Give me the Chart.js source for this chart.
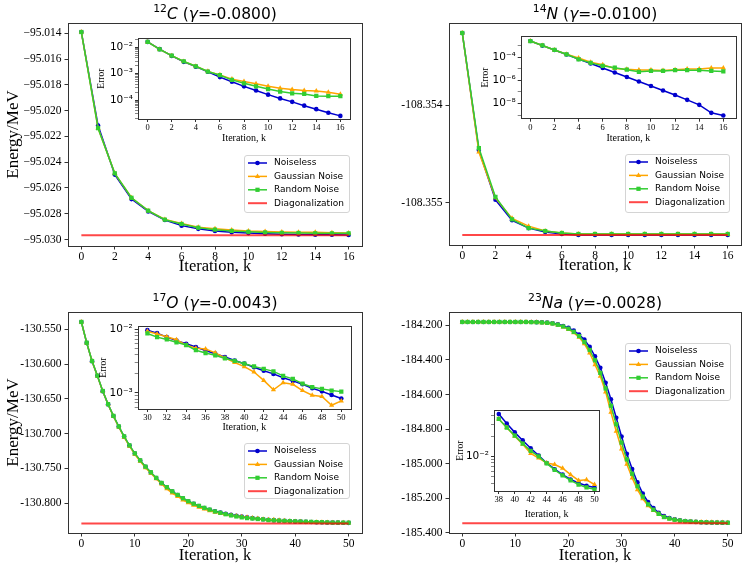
<!DOCTYPE html>
<html><head><meta charset="utf-8">
<script src="https://cdn.jsdelivr.net/npm/chart.js@4/dist/chart.umd.min.js"></script>
<style>
html,body{margin:0;padding:0;background:#fff;}
#wrap{position:relative;width:747px;height:571px;overflow:hidden;background:#fff;}
#wrap canvas{position:absolute;}
</style></head><body><div id="wrap"></div>
<script>
// ---------------- DATA ----------------
const seriesNames = ['Noiseless', 'Gaussian Noise', 'Random Noise', 'Diagonalization'];
const panelTitles = [
  [{t:'12',sup:1},{t:'C',it:1},{t:' ('},{t:'γ',it:1},{t:'=-0.0800)'}],
  [{t:'14',sup:1},{t:'N',it:1},{t:' ('},{t:'γ',it:1},{t:'=-0.0100)'}],
  [{t:'17',sup:1},{t:'O',it:1},{t:' ('},{t:'γ',it:1},{t:'=-0.0043)'}],
  [{t:'23',sup:1},{t:'Na',it:1},{t:' ('},{t:'γ',it:1},{t:'=-0.0028)'}]
];
const xTitle = 'Iteration, k';
const yTitle = 'Energy/MeV';
const insetYTitle = 'Error';

const iter16 = [0,1,2,3,4,5,6,7,8,9,10,11,12,13,14,15,16];
const iter50 = [0,1,2,3,4,5,6,7,8,9,10,11,12,13,14,15,16,17,18,19,20,21,22,23,24,25,26,27,28,29,30,31,32,33,34,35,36,37,38,39,40,41,42,43,44,45,46,47,48,49,50];
const iterOInset = [30,31,32,33,34,35,36,37,38,39,40,41,42,43,44,45,46,47,48,49,50];
const iterNaInset = [38,39,40,41,42,43,44,45,46,47,48,49,50];

// 12C
const diagC = -95.02966;
const noiselessC = [-95.0139,-95.02116,-95.02496,-95.02686,-95.02782,-95.02848,-95.02892,-95.02917,-95.02933,-95.02943,-95.0295,-95.02955,-95.02958,-95.0296,-95.02962,-95.02963,-95.02964];
const gaussianC = [-95.0139,-95.02136,-95.02486,-95.02676,-95.02776,-95.02844,-95.02876,-95.02904,-95.02916,-95.02925,-95.02933,-95.02938,-95.02941,-95.02943,-95.02944,-95.02947,-95.0295];
const randomC = [-95.0139,-95.02136,-95.02486,-95.02676,-95.02776,-95.02846,-95.02879,-95.02908,-95.02923,-95.02933,-95.0294,-95.02945,-95.02948,-95.02949,-95.02952,-95.02952,-95.02952];
const errNoiselessC = [1.6e-2,8.5e-3,4.7e-3,2.8e-3,1.84e-3,1.18e-3,7.4e-4,4.9e-4,3.3e-4,2.3e-4,1.6e-4,1.15e-4,8.5e-5,6.1e-5,4.5e-5,3.3e-5,2.5e-5];
const errGaussianC = [1.6e-2,8.3e-3,4.8e-3,2.9e-3,1.9e-3,1.22e-3,9.0e-4,6.2e-4,5.0e-4,4.1e-4,3.3e-4,2.8e-4,2.5e-4,2.3e-4,2.2e-4,1.95e-4,1.65e-4];
const errRandomC = [1.6e-2,8.3e-3,4.8e-3,2.9e-3,1.9e-3,1.2e-3,8.7e-4,5.8e-4,4.3e-4,3.3e-4,2.6e-4,2.1e-4,1.8e-4,1.7e-4,1.43e-4,1.4e-4,1.4e-4];

// 14N
const diagN = -108.35533;
const noiselessN = [-108.35326,-108.35446,-108.35497,-108.35518,-108.35526,-108.3553,-108.35532,-108.35533,-108.35533,-108.35533,-108.35533,-108.35533,-108.35533,-108.35533,-108.35533,-108.35533,-108.35533];
const gaussianN = [-108.35326,-108.35448,-108.35495,-108.35516,-108.35524,-108.35529,-108.35531,-108.35532,-108.35532,-108.35532,-108.35532,-108.35532,-108.35532,-108.35532,-108.35532,-108.35532,-108.35532];
const randomN = [-108.35326,-108.35444,-108.35494,-108.35517,-108.35526,-108.35529,-108.35531,-108.35532,-108.35532,-108.35532,-108.35532,-108.35532,-108.35532,-108.35532,-108.35532,-108.35532,-108.35532];
const errNoiselessN = [2.4e-3,9.8e-4,4.1e-4,1.66e-4,6.8e-5,2.8e-5,1.15e-5,4.8e-6,1.95e-6,7.9e-7,3.3e-7,1.35e-7,5.5e-8,2.1e-8,7.8e-9,1.6e-9,9.5e-10];
const errGaussianN = [2.4e-3,1.0e-3,4.1e-4,1.74e-4,8.3e-5,3.6e-5,2.2e-5,1.07e-5,8.9e-6,7.9e-6,7.9e-6,6.9e-6,8.3e-6,9.5e-6,9.5e-6,1.15e-5,1.15e-5];
const errRandomN = [2.4e-3,1.0e-3,4.1e-4,1.74e-4,6.5e-5,3.2e-5,1.8e-5,1.23e-5,8.3e-6,5.4e-6,6.5e-6,6.5e-6,7.4e-6,7.4e-6,7.4e-6,6.5e-6,5.8e-6];

// 17O
const diagO = -130.8292;
const noiselessO = [-130.5395,-130.5696,-130.5959,-130.6170,-130.6390,-130.6580,-130.6748,-130.6900,-130.7044,-130.7173,
  -130.7288,-130.7388,-130.7479,-130.7560,-130.7640,-130.7713,-130.7775,-130.7833,-130.7885,-130.7933,
  -130.7976,-130.8011,-130.8042,-130.8070,-130.8095,-130.8117,-130.8136,-130.8153,-130.8169,-130.8182,
  -130.8194,-130.8204,-130.8216,-130.8225,-130.8232,-130.8239,-130.8245,-130.8250,-130.8255,-130.8259,
  -130.8263,-130.8266,-130.8270,-130.8272,-130.8275,-130.8276,-130.8278,-130.8280,-130.8281,-130.8283,-130.8284];
const gaussianO = [-130.5395,-130.5696,-130.5960,-130.6172,-130.6392,-130.6583,-130.6752,-130.6906,-130.7052,-130.7182,
  -130.7298,-130.7400,-130.7492,-130.7572,-130.7650,-130.7725,-130.7795,-130.7855,-130.7905,-130.7955,
  -130.7995,-130.8030,-130.8060,-130.8085,-130.8110,-130.8130,-130.8148,-130.8163,-130.8176,-130.8187,
  -130.8196,-130.8205,-130.8213,-130.8221,-130.8233,-130.8239,-130.8240,-130.8247,-130.8254,-130.8260,
  -130.8264,-130.8269,-130.8274,-130.8279,-130.8276,-130.8276,-130.8279,-130.8281,-130.8281,-130.8284,-130.8283];
const randomO = [-130.5395,-130.5694,-130.5957,-130.6168,-130.6388,-130.6578,-130.6746,-130.6898,-130.7041,-130.7170,
  -130.7285,-130.7385,-130.7476,-130.7557,-130.7637,-130.7710,-130.7772,-130.7830,-130.7882,-130.7930,
  -130.7973,-130.8009,-130.8040,-130.8068,-130.8094,-130.8120,-130.8140,-130.8160,-130.8177,-130.8192,
  -130.8205,-130.8216,-130.8222,-130.8229,-130.8235,-130.8245,-130.8249,-130.8253,-130.8257,-130.8260,
  -130.8263,-130.8266,-130.8268,-130.8270,-130.8273,-130.8275,-130.8278,-130.8280,-130.8280,-130.8281,-130.8282];
const errNoiselessO = [9.8e-3,8.8e-3,7.6e-3,6.7e-3,5.98e-3,5.3e-3,4.68e-3,4.17e-3,3.7e-3,3.26e-3,2.9e-3,2.55e-3,2.24e-3,2.0e-3,1.74e-3,1.55e-3,1.37e-3,1.19e-3,1.06e-3,9.3e-4,8.2e-4];
const errGaussianO = [9.4e-3,8.5e-3,7.7e-3,6.9e-3,5.7e-3,5.1e-3,4.96e-3,4.3e-3,3.57e-3,3.03e-3,2.6e-3,2.14e-3,1.58e-3,1.12e-3,1.45e-3,1.37e-3,1.09e-3,9.2e-4,8.8e-4,6.4e-4,7.5e-4];
const errRandomO = [8.7e-3,7.6e-3,7.0e-3,6.3e-3,5.7e-3,4.73e-3,4.26e-3,3.93e-3,3.5e-3,3.22e-3,2.9e-3,2.63e-3,2.4e-3,2.19e-3,1.86e-3,1.67e-3,1.4e-3,1.24e-3,1.16e-3,1.09e-3,1.05e-3];

// 23Na
const diagNa = -185.3443;
const noiselessNa = [-184.181,-184.181,-184.181,-184.181,-184.181,-184.181,-184.181,-184.181,-184.181,-184.181,-184.181,-184.181,-184.181,-184.1815,-184.182,-184.183,
  -184.185,-184.188,-184.194,-184.204,-184.215,-184.231,-184.254,-184.283,-184.325,-184.379,-184.446,-184.532,-184.628,-184.734,-184.843,-184.943,-185.031,-185.108,-185.173,-185.221,-185.256,-185.283,
  -185.3017,-185.3134,-185.3215,-185.327,-185.3311,-185.334,-185.3363,-185.3378,-185.3389,-185.3398,-185.3403,-185.3406,-185.3409];
const gaussianNa = [-184.181,-184.181,-184.181,-184.181,-184.181,-184.181,-184.181,-184.181,-184.181,-184.181,-184.181,-184.181,-184.181,-184.182,-184.183,-184.185,
  -184.187,-184.191,-184.199,-184.21,-184.224,-184.243,-184.27,-184.307,-184.36,-184.428,-184.495,-184.585,-184.703,-184.812,-184.915,-185.003,-185.083,-185.15,-185.203,-185.243,-185.27,-185.29,
  -185.3082,-185.3174,-185.3243,-185.3291,-185.3332,-185.3348,-185.3363,-185.3367,-185.3376,-185.3389,-185.3399,-185.3398,-185.3405];
const randomNa = [-184.181,-184.181,-184.181,-184.181,-184.181,-184.181,-184.181,-184.181,-184.181,-184.181,-184.181,-184.181,-184.181,-184.182,-184.1825,-184.184,
  -184.186,-184.19,-184.197,-184.207,-184.22,-184.238,-184.263,-184.297,-184.343,-184.402,-184.475,-184.565,-184.665,-184.772,-184.878,-184.975,-185.058,-185.13,-185.19,-185.235,-185.266,-185.29,
  -185.3082,-185.3174,-185.3239,-185.3288,-185.3322,-185.3343,-185.3364,-185.338,-185.3391,-185.3399,-185.3405,-185.3408,-185.3411];
const errNoiselessNa = [0.0426,0.0309,0.0228,0.0173,0.0132,0.0103,0.0080,0.00646,0.00536,0.00454,0.00402,0.00366,0.00344];
const errGaussianNa = [0.0361,0.0269,0.020,0.0152,0.0111,0.00946,0.0080,0.0076,0.00667,0.00536,0.0044,0.0045,0.00381];
const errRandomNa = [0.0361,0.0269,0.0204,0.0155,0.0121,0.0100,0.00787,0.00631,0.00524,0.00440,0.00381,0.00346,0.00324];

// tick values
const xTicks16 = [0,2,4,6,8,10,12,14,16];
const xTicks50 = [0,10,20,30,40,50];
const xTicksOInset = [30,32,34,36,38,40,42,44,46,48,50];
const xTicksNaInset = [38,40,42,44,46,48,50];
const yTicksC = [-95.030,-95.028,-95.026,-95.024,-95.022,-95.020,-95.018,-95.016,-95.014];
const yTicksN = [-108.355,-108.354];
const yTicksO = [-130.800,-130.750,-130.700,-130.650,-130.600,-130.550];
const yTicksNa = [-185.400,-185.200,-185.000,-184.800,-184.600,-184.400,-184.200];
const errTicksC = [1e-4,1e-3,1e-2];
const errTicksN = [1e-8,1e-6,1e-4];
const errMinorN = [1e-9,1e-7,1e-5,1e-3];
const errTicksO = [1e-3,1e-2];
const errTicksNa = [1e-2];

// ---------------- STYLE ----------------
const SERIF = '"Liberation Serif","Times New Roman",serif';
const SANS = '"DejaVu Sans",sans-serif';
const COL = ['#0000cd', '#ffa500', '#32cd32', 'rgba(255,0,0,0.72)'];
const PSTYLE = ['circle', 'triangle', 'rect'];
const PRAD = [2.3, 3.0, 3.0];
Chart.defaults.color = '#000';

function drawMarker(c, style, x, y, r, color) {
  c.save(); c.fillStyle = color; c.beginPath();
  if (style === 'circle') { c.arc(x, y, r, 0, Math.PI * 2); }
  else if (style === 'triangle') {
    let a = 0;
    c.moveTo(x + Math.sin(a) * r, y - Math.cos(a) * r); a += Math.PI * 2 / 3;
    c.lineTo(x + Math.sin(a) * r, y - Math.cos(a) * r); a += Math.PI * 2 / 3;
    c.lineTo(x + Math.sin(a) * r, y - Math.cos(a) * r); c.closePath();
  } else { const s = r * Math.SQRT1_2; c.rect(x - s, y - s, 2 * s, 2 * s); }
  c.fill(); c.restore();
}

const framePlugin = {
  id: 'frameBox',
  beforeDraw(chart, args, o) {
    if (!o.fill) return;
    const a = chart.chartArea, c = chart.ctx;
    c.save(); c.fillStyle = '#fff'; c.fillRect(a.left, a.top, a.right - a.left, a.bottom - a.top); c.restore();
  },
  afterDatasetsDraw(chart) {
    const a = chart.chartArea, c = chart.ctx;
    c.save(); c.strokeStyle = '#333'; c.lineWidth = 1;
    c.strokeRect(Math.round(a.left) + 0.5, Math.round(a.top) + 0.5, Math.round(a.right - a.left), Math.round(a.bottom - a.top));
    c.restore();
  }
};

const legendPlugin = {
  id: 'boxLegend',
  afterDraw(chart, args, o) {
    if (!o.box) return;
    const c = chart.ctx, b = o.box;
    c.save();
    c.beginPath(); c.roundRect(b.x + 0.5, b.y + 0.5, b.w, b.h, 2.5);
    c.fillStyle = 'rgba(255,255,255,0.85)'; c.fill();
    c.strokeStyle = '#d4d4d4'; c.lineWidth = 1; c.stroke();
    c.font = `9px ${SANS}`; c.textBaseline = 'middle'; c.textAlign = 'left';
    seriesNames.forEach((name, i) => {
      const y = b.y + 8 + i * 13.4, x0 = b.x + 4, x1 = b.x + 23;
      c.strokeStyle = COL[i]; c.lineWidth = i === 3 ? 2 : 1.5;
      c.beginPath(); c.moveTo(x0, y); c.lineTo(x1, y); c.stroke();
      if (i < 3) drawMarker(c, PSTYLE[i], (x0 + x1) / 2, y, PRAD[i], COL[i]);
      c.fillStyle = '#000'; c.fillText(name, b.x + 30, y);
    });
    c.restore();
  }
};

const titlePlugin = {
  id: 'richTitle',
  afterDraw(chart, args, o) {
    if (!o.parts) return;
    const c = chart.ctx, a = chart.chartArea, S = o.size;
    const fonts = o.parts.map(p => `${p.it ? 'italic ' : ''}${p.sup ? S * 0.7 : S}px ${SANS}`);
    let w = 0;
    const ws = o.parts.map((p, i) => { c.font = fonts[i]; const m = c.measureText(p.t).width; w += m; return m; });
    let x = (a.left + a.right) / 2 - w / 2;
    const base = a.top - o.gap;
    c.save(); c.fillStyle = '#000'; c.textBaseline = 'alphabetic'; c.textAlign = 'left';
    o.parts.forEach((p, i) => { c.font = fonts[i]; c.fillText(p.t, x, base - (p.sup ? S * 0.4 : 0)); x += ws[i]; });
    c.restore();
  }
};

function pts(xs, ys) { return xs.map((x, i) => ({ x: x, y: ys[i] })); }

function seriesSets(xs, arrs, diag) {
  const ds = arrs.map((ys, i) => ({
    label: seriesNames[i], data: pts(xs, ys), borderColor: COL[i], backgroundColor: COL[i],
    borderWidth: 1.5, pointStyle: PSTYLE[i], pointRadius: PRAD[i], pointBorderWidth: 0,
    pointBackgroundColor: COL[i], tension: 0, order: 3 - i
  }));
  if (diag !== undefined) {
    ds.push({ label: seriesNames[3], data: [{ x: xs[0], y: diag }, { x: xs[xs.length - 1], y: diag }],
      borderColor: COL[3], borderWidth: 2, pointRadius: 0, tension: 0, order: 0 });
  }
  return ds;
}

function addCanvas(x, y, w, h) {
  const cv = document.createElement('canvas');
  cv.width = w; cv.height = h;
  cv.style.left = x + 'px'; cv.style.top = y + 'px'; cv.style.width = w + 'px'; cv.style.height = h + 'px';
  document.getElementById('wrap').appendChild(cv);
  return cv;
}

function supStr(n) {
  const m = { '-': '⁻', '0': '⁰', '1': '¹', '2': '²', '3': '³', '4': '⁴', '5': '⁵', '6': '⁶', '7': '⁷', '8': '⁸', '9': '⁹' };
  return String(n).split('').map(ch => m[ch]).join('');
}

function makeMain(p) {
  const F = p.frame;
  const cv = addCanvas(p.x, p.y, p.w, p.h);
  return new Chart(cv, {
    type: 'line',
    data: { datasets: seriesSets(p.xs, p.series, p.diag) },
    options: {
      responsive: false, animation: false, events: [],
      layout: { autoPadding: false, padding: { left: 0, top: F.T, right: p.w - F.R, bottom: p.h - F.B - p.xH } },
      scales: {
        x: {
          type: 'linear', min: p.xMin, max: p.xMax, bounds: 'data',
          afterBuildTicks: s => { s.ticks = p.xTicks.map(v => ({ value: v })); },
          afterFit: s => { s.height = p.xH; },
          ticks: { autoSkip: false, maxRotation: 0, minRotation: 0, font: { family: SERIF, size: 11.5 }, color: '#000', padding: 1, callback: v => String(v) },
          grid: { drawOnChartArea: false, drawTicks: true, tickLength: 3.5, color: '#333' },
          border: { display: false },
          title: { display: true, text: xTitle, font: { family: SERIF, size: 16.5, lineHeight: 1.2 }, color: '#000', padding: { top: 0, bottom: 0 } }
        },
        y: {
          type: 'linear', min: p.yMin, max: p.yMax, bounds: 'data',
          afterBuildTicks: s => { s.ticks = p.yTicks.map(v => ({ value: v })); },
          afterFit: s => { s.width = F.L; },
          ticks: { autoSkip: false, font: { family: SERIF, size: 11.5 }, color: '#000', padding: 3, callback: p.yFmt },
          grid: { drawOnChartArea: false, drawTicks: true, tickLength: 3.5, color: '#333' },
          border: { display: false },
          title: p.yTitle ? { display: true, text: yTitle, font: { family: SERIF, size: 17, lineHeight: 1.2 }, color: '#000', padding: { top: 3, bottom: 0 } } : { display: false }
        }
      },
      plugins: {
        legend: { display: false }, tooltip: { enabled: false },
        frameBox: { fill: false },
        boxLegend: { box: p.legend },
        richTitle: { parts: p.title, size: 15.5, gap: 4.5 }
      }
    },
    plugins: [framePlugin, legendPlugin, titlePlugin]
  });
}

function makeInset(p) {
  const F = p.frame;
  const cv = addCanvas(p.x, p.y, p.w, p.h);
  return new Chart(cv, {
    type: 'line',
    data: { datasets: seriesSets(p.xs, p.series) },
    options: {
      responsive: false, animation: false, events: [],
      layout: { autoPadding: false, padding: { left: 0, top: F.T, right: p.w - F.R, bottom: p.h - F.B - p.xH } },
      scales: {
        x: {
          type: 'linear', min: p.xMin, max: p.xMax, bounds: 'data',
          afterBuildTicks: s => { s.ticks = p.xTicks.map(v => ({ value: v })); },
          afterFit: s => { s.height = p.xH; },
          ticks: { autoSkip: false, maxRotation: 0, minRotation: 0, font: { family: SERIF, size: 8.5 }, color: '#000', padding: 1, callback: v => String(v) },
          grid: { drawOnChartArea: false, drawTicks: true, tickLength: 3, color: '#333' },
          border: { display: false },
          title: { display: true, text: xTitle, font: { family: SERIF, size: 10, lineHeight: 1.2 }, color: '#000', padding: { top: 0, bottom: 0 } }
        },
        y: {
          type: 'logarithmic', min: p.yMin, max: p.yMax, bounds: 'data',
          afterBuildTicks: s => {
            const t = p.yMajor.map(v => ({ value: v, lab: true }));
            p.yMinor.forEach(v => t.push({ value: v, lab: false }));
            t.sort((a, b) => a.value - b.value);
            s.ticks = t;
          },
          afterFit: s => { s.width = F.L; },
          ticks: {
            autoSkip: false, font: { family: SANS, size: 10.5 }, color: '#000', padding: 2,
            callback: (v, i, ticks) => ticks[i].lab ? '10' + supStr(Math.round(Math.log10(v))) : ''
          },
          grid: { drawOnChartArea: false, drawTicks: true, tickLength: 3, color: '#333',
            tickWidth: ctx => (ctx.tick && ctx.tick.lab) ? 1 : 0.6 },
          border: { display: false },
          title: { display: true, text: insetYTitle, font: { family: SERIF, size: 9.5, lineHeight: 1.2 }, color: '#000', padding: { top: p.yTitlePad, bottom: 0 } }
        }
      },
      plugins: { legend: { display: false }, tooltip: { enabled: false }, frameBox: { fill: true } }
    },
    plugins: [framePlugin]
  });
}

function minorSubs(lo, hi) {
  const out = [];
  for (let e = Math.floor(Math.log10(lo)); e <= Math.ceil(Math.log10(hi)); e++) {
    for (let m = 2; m <= 9; m++) { const v = m * Math.pow(10, e); if (v > lo && v < hi) out.push(v); }
  }
  return out;
}

// ---------------- PANELS ----------------
// 12C
makeMain({ x: 0, y: 0, w: 373, h: 285, frame: { L: 68, T: 23, R: 362, B: 246 }, xH: 31,
  xs: iter16, series: [noiselessC, gaussianC, randomC], diag: diagC,
  xMin: -0.8, xMax: 16.8, xTicks: xTicks16, yMin: -95.0305, yMax: -95.0132, yTicks: yTicksC,
  yFmt: v => '−' + Math.abs(v).toFixed(3), yTitle: true, title: panelTitles[0],
  legend: { x: 244, y: 155, w: 105, h: 57 } });
makeInset({ x: 90, y: 30, w: 266, h: 120, frame: { L: 48, T: 4.3, R: 260, B: 89 }, xH: 25, yTitlePad: 6,
  xs: iter16, series: [errNoiselessC, errGaussianC, errRandomC],
  xMin: -0.8, xMax: 16.8, xTicks: xTicks16,
  yMin: Math.pow(10, -4.72), yMax: Math.pow(10, -1.66), yMajor: errTicksC, yMinor: minorSubs(Math.pow(10, -4.72), Math.pow(10, -1.66)) });

// 14N
makeMain({ x: 373, y: 0, w: 374, h: 285, frame: { L: 76, T: 23, R: 368, B: 245 }, xH: 31,
  xs: iter16, series: [noiselessN, gaussianN, randomN], diag: diagN,
  xMin: -0.8, xMax: 16.8, xTicks: xTicks16, yMin: -108.355433, yMax: -108.353158, yTicks: yTicksN,
  yFmt: v => v.toFixed(3), yTitle: false, title: panelTitles[1],
  legend: { x: 252, y: 154, w: 104, h: 58 } });
makeInset({ x: 472, y: 28, w: 270, h: 122, frame: { L: 48.7, T: 5, R: 264, B: 90.7 }, xH: 25.3, yTitlePad: 7.3,
  xs: iter16, series: [errNoiselessN, errGaussianN, errRandomN],
  xMin: -0.8, xMax: 17.05, xTicks: xTicks16,
  yMin: Math.pow(10, -9.30), yMax: Math.pow(10, -2.21), yMajor: errTicksN, yMinor: errMinorN });

// 17O
makeMain({ x: 0, y: 285, w: 373, h: 286, frame: { L: 68, T: 27, R: 362, B: 248 }, xH: 33,
  xs: iter50, series: [noiselessO, gaussianO, randomO], diag: diagO,
  xMin: -2.5, xMax: 52.5, xTicks: xTicks50, yMin: -130.8430, yMax: -130.5252, yTicks: yTicksO,
  yFmt: v => v.toFixed(3), yTitle: true, title: panelTitles[2],
  legend: { x: 244, y: 158, w: 105, h: 55 } });
makeInset({ x: 90, y: 318, w: 267, h: 122, frame: { L: 47.7, T: 5.3, R: 261, B: 91 }, xH: 24.3, yTitlePad: 7.5,
  xs: iterOInset, series: [errNoiselessO, errGaussianO, errRandomO],
  xMin: 29, xMax: 51, xTicks: xTicksOInset,
  yMin: Math.pow(10, -3.253), yMax: Math.pow(10, -1.948), yMajor: errTicksO, yMinor: minorSubs(Math.pow(10, -3.253), Math.pow(10, -1.948)) });

// 23Na
makeMain({ x: 373, y: 285, w: 374, h: 286, frame: { L: 76, T: 27, R: 368, B: 248 }, xH: 33,
  xs: iter50, series: [noiselessNa, gaussianNa, randomNa], diag: diagNa,
  xMin: -2.5, xMax: 52.5, xTicks: xTicks50, yMin: -185.4003, yMax: -184.1234, yTicks: yTicksNa,
  yFmt: v => v.toFixed(3), yTitle: false, title: panelTitles[3],
  legend: { x: 252, y: 58, w: 105, h: 57 } });
makeInset({ x: 452, y: 402, w: 154, h: 123, frame: { L: 42, T: 5, R: 147.3, B: 89 }, xH: 29, yTitlePad: 2.5,
  xs: iterNaInset, series: [errNoiselessNa, errGaussianNa, errRandomNa],
  xMin: 37.4, xMax: 50.6, xTicks: xTicksNaInset,
  yMin: Math.pow(10, -2.514), yMax: Math.pow(10, -1.314), yMajor: errTicksNa, yMinor: minorSubs(Math.pow(10, -2.514), Math.pow(10, -1.314)) });
</script>
</body></html>
